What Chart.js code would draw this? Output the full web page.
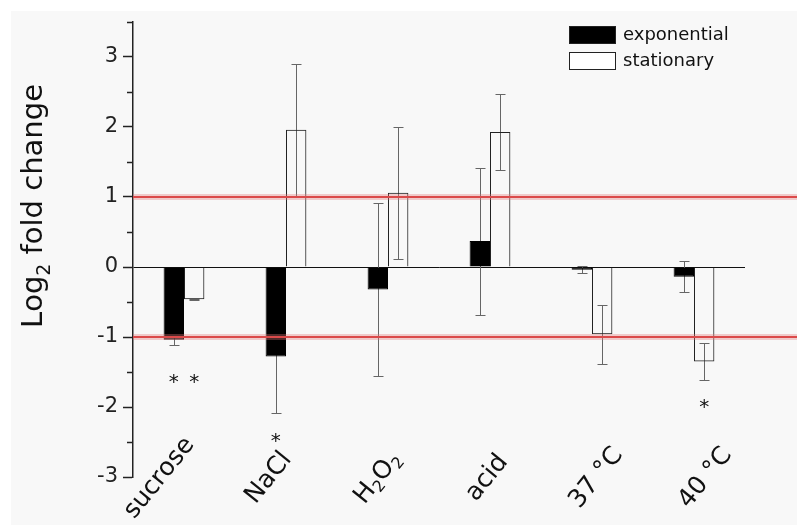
<!DOCTYPE html>
<html>
<head>
<meta charset="utf-8">
<script src="https://cdn.jsdelivr.net/npm/chart.js@4"></script>
<style>
  html, body { margin: 0; padding: 0; background: #fff; }
  canvas { display: block; }
</style>
</head>
<body>
<canvas id="foldChart" width="797" height="525"></canvas>
<script>
// values
const categories = ['sucrose', 'NaCl', 'H₂O₂', 'acid', '37 °C', '40 °C'];
const exponential = [-1.04, -1.28, -0.32, 0.37, -0.04, -0.14];
const exponentialErr = [0.07, 0.80, 1.24, 1.05, 0.05, 0.22];
const stationary = [-0.46, 1.96, 1.06, 1.93, -0.96, -1.35];
const stationaryErr = [0.01, 0.94, 0.94, 0.54, 0.42, 0.26];
const thresholds = [1, -1];
// significance marks (*): category index, series index, y value
const starCategory = [0, 0, 1, 5];
const starSeries = [0, 1, 0, 1];
const starValue = [-1.56, -1.56, -2.40, -1.92];

const FONT = "'DejaVu Sans', sans-serif";
Chart.defaults.font.family = FONT;

// draw text where unicode subscript digits are rendered small and lowered
const SUBS = { '₀': '0', '₁': '1', '₂': '2', '₃': '3' };
function richParts(text) {
    return [...text].map(ch => SUBS[ch] ? { t: SUBS[ch], sub: true } : { t: ch, sub: false });
}
function richWidth(ctx, text, size) {
    let w = 0;
    richParts(text).forEach(p => {
        ctx.font = (p.sub ? Math.round(size * 0.65) : size) + 'px ' + FONT;
        w += ctx.measureText(p.t).width;
    });
    return w;
}
function drawRich(ctx, text, size, x, y) {
    richParts(text).forEach(p => {
        ctx.font = (p.sub ? Math.round(size * 0.65) : size) + 'px ' + FONT;
        ctx.fillText(p.t, x, y + (p.sub ? size * 0.28 : 0));
        x += ctx.measureText(p.t).width;
    });
}

// grey panel behind the plot
const panelBg = {
    id: 'panelBg',
    beforeDraw(chart) {
        const c = chart.ctx;
        c.save();
        c.fillStyle = '#fff';
        c.fillRect(0, 0, chart.width, chart.height);
        c.fillStyle = '#f8f8f8';
        c.fillRect(11, 11, chart.width - 11, chart.height - 11);
        c.restore();
    }
};

// error bars, under the bars so black bars hide the inner part
const errorBars = {
    id: 'errorBars',
    beforeDatasetsDraw(chart) {
        const c = chart.ctx, y = chart.scales.y;
        const errs = [exponentialErr, stationaryErr];
        c.save();
        c.strokeStyle = '#666';
        c.lineWidth = 1;
        chart.data.datasets.forEach((ds, s) => {
            chart.getDatasetMeta(s).data.forEach((bar, i) => {
                const v = ds.data[i], e = errs[s][i];
                const hi = Math.round(y.getPixelForValue(v + e)) + 0.5;
                const lo = Math.round(y.getPixelForValue(v - e)) + 0.5;
                const x = Math.round(bar.x) + 0.5;
                c.beginPath();
                c.moveTo(x, hi); c.lineTo(x, lo);
                c.moveTo(x - 5, hi); c.lineTo(x + 5, hi);
                c.moveTo(x - 5, lo); c.lineTo(x + 5, lo);
                c.stroke();
            });
        });
        c.restore();
    }
};

// red threshold lines at +/-1
const thresholdLines = {
    id: 'thresholdLines',
    afterDatasetsDraw(chart) {
        const c = chart.ctx, y = chart.scales.y, a = chart.chartArea;
        c.save();
        thresholds.forEach(t => {
            const py = y.getPixelForValue(t);
            c.strokeStyle = 'rgba(225,120,120,0.35)';
            c.lineWidth = 6;
            c.beginPath(); c.moveTo(a.left, py); c.lineTo(chart.width, py); c.stroke();
            c.strokeStyle = '#db4a4a';
            c.lineWidth = 2;
            c.beginPath(); c.moveTo(a.left, py); c.lineTo(chart.width, py); c.stroke();
        });
        c.restore();
    }
};

// minor ticks, stars, category labels, axis title, legend
const decorations = {
    id: 'decorations',
    afterDraw(chart) {
        const c = chart.ctx, y = chart.scales.y, x = chart.scales.x, a = chart.chartArea;
        c.save();

        // minor ticks
        c.strokeStyle = '#222';
        c.lineWidth = 1.5;
        y.ticks.forEach(t => {
            if (Number.isInteger(t.value)) return;
            const py = Math.round(y.getPixelForValue(t.value)) + 0.5;
            c.beginPath(); c.moveTo(a.left - 6, py); c.lineTo(a.left, py); c.stroke();
        });

        // significance stars
        c.fillStyle = '#111';
        c.font = '20px ' + FONT;
        c.textAlign = 'center';
        c.textBaseline = 'alphabetic';
        starValue.forEach((v, k) => {
            const bar = chart.getDatasetMeta(starSeries[k]).data[starCategory[k]];
            c.fillText('*', bar.x, y.getPixelForValue(v) + 11.5);
        });

        // rotated category labels
        c.textAlign = 'left';
        c.textBaseline = 'middle';
        const size = 25;
        categories.forEach((lab, i) => {
            const cx = x.getPixelForValue(i) - 6.4 + 7.2 * (i - 2.5);
            c.save();
            c.translate(cx, a.bottom + 1);
            c.rotate(-51 * Math.PI / 180);
            const w = richWidth(c, lab, size);
            drawRich(c, lab, size, -w / 2, 0);
            c.restore();
        });

        // y axis title: Log2 fold change
        c.save();
        c.translate(42, 328);
        c.rotate(-Math.PI / 2);
        c.textBaseline = 'alphabetic';
        drawRich(c, 'Log₂ fold change', 29, 0, 0);
        c.restore();

        // legend
        const lx = a.right - 176, ly = a.top + 4;
        const names = chart.data.datasets.map(d => d.label);
        c.font = '18px ' + FONT;
        c.textAlign = 'left';
        c.textBaseline = 'middle';
        names.forEach((n, k) => {
            const by = ly + k * 26;
            c.fillStyle = k === 0 ? '#000' : '#fff';
            c.fillRect(lx, by, 47, 18);
            c.strokeStyle = '#222';
            c.lineWidth = 1;
            c.strokeRect(lx + 0.5, by + 0.5, 46, 17);
            c.fillStyle = '#111';
            c.fillText(n, lx + 54, by + 9);
        });
        c.restore();
    }
};

new Chart(document.getElementById('foldChart'), {
    type: 'bar',
    data: {
        labels: categories,
        datasets: [{
            label: 'exponential',
            data: exponential,
            backgroundColor: '#000',
            borderColor: '#000',
            borderWidth: 1
        }, {
            label: 'stationary',
            data: stationary,
            backgroundColor: 'rgba(0,0,0,0)',
            borderColor: '#222',
            borderWidth: 1
        }]
    },
    options: {
        responsive: false,
        animation: false,
        devicePixelRatio: 1,
        categoryPercentage: 0.4,
        barPercentage: 1.0,
        layout: { padding: { top: 22, right: 52, bottom: 48, left: 0 } },
        plugins: {
            legend: { display: false },
            tooltip: { enabled: false }
        },
        scales: {
            x: { display: false },
            y: {
                min: -3,
                max: 3.5,
                afterFit: s => { s.width = 133; },
                border: { display: true, color: '#222', width: 1.5 },
                grid: {
                    color: ctx => ctx.tick && ctx.tick.value === 0 ? '#111' : 'rgba(0,0,0,0)',
                    tickColor: ctx => ctx.tick && Number.isInteger(ctx.tick.value) ? '#222' : 'rgba(0,0,0,0)',
                    tickLength: 10,
                    tickWidth: 1.5,
                    lineWidth: 1
                },
                ticks: {
                    stepSize: 0.5,
                    padding: 5,
                    color: '#222',
                    font: { size: 21 },
                    callback: v => Number.isInteger(v) ? String(v) : ''
                }
            }
        }
    },
    plugins: [panelBg, errorBars, thresholdLines, decorations]
});
</script>
</body>
</html>
